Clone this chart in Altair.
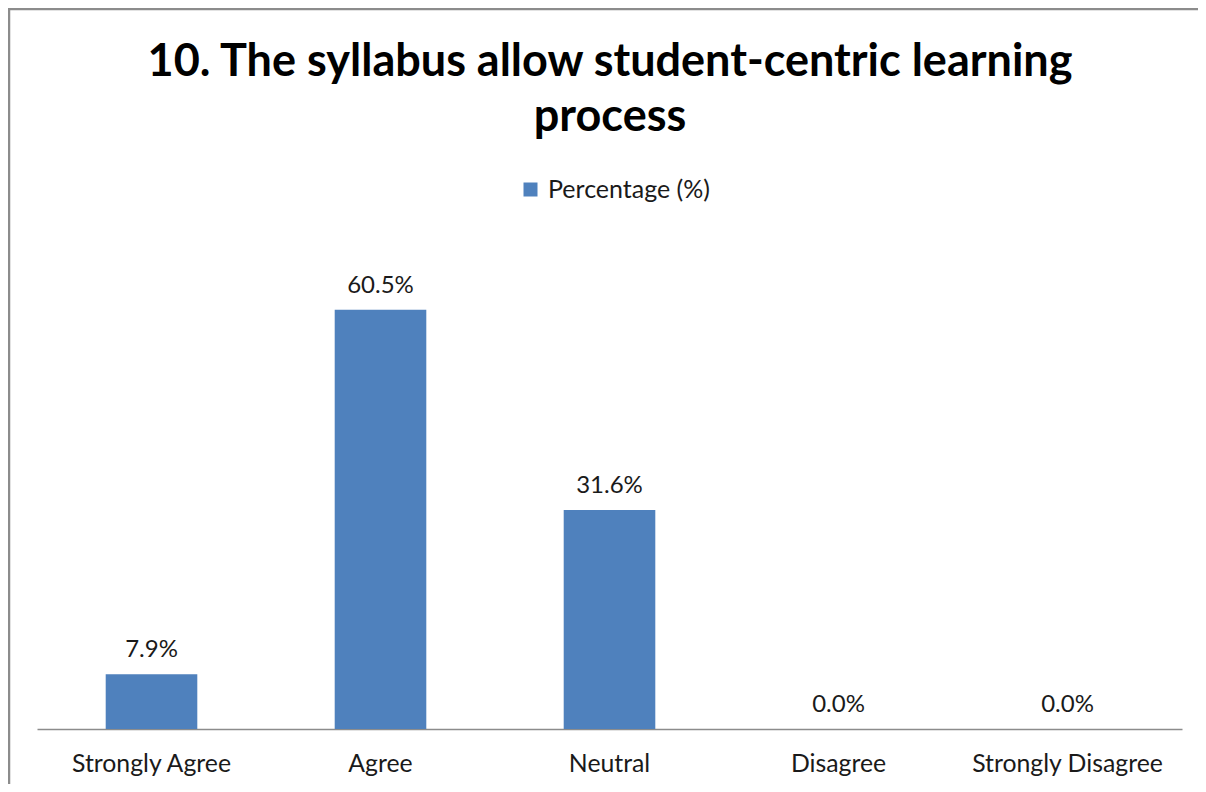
import altair as alt
import pandas as pd

categories = ["Strongly Agree", "Agree", "Neutral", "Disagree", "Strongly Disagree"]
values = [7.9, 60.5, 31.6, 0.0, 0.0]
series_name = "Percentage (%)"
title_lines = ["10. The syllabus allow student-centric learning", "process"]

df = pd.DataFrame({"category": categories, "value": values, "series": [series_name] * len(categories)})
one = pd.DataFrame({"k": [0]})

FONT = "Lato"
W, H = 1145, 485

x_enc = alt.X("category:N", sort=categories,
              scale=alt.Scale(paddingInner=0.6, paddingOuter=0.3),
              axis=alt.Axis(title=None, labelAngle=0, ticks=False, labelFontSize=24.8,
                            labelFont=FONT, labelColor="#1a1a1a", labelPadding=22, labelLimit=400,
                            domainColor="#8c8c8c", domainWidth=1.5, grid=False))
y_enc = alt.Y("value:Q", scale=alt.Scale(domain=[0, 70], nice=False), axis=None)

bars = alt.Chart(df).mark_bar(color="#4F81BD").encode(
    x=x_enc, y=y_enc,
    color=alt.Color("series:N", scale=alt.Scale(range=["#4F81BD"]),
                    legend=alt.Legend(title=None, orient="none", legendX=481, legendY=-67,
                                      symbolType="square", symbolSize=196, symbolStrokeWidth=0,
                                      labelFontSize=25, labelFont=FONT, labelColor="#1a1a1a",
                                      labelOffset=5, labelLimit=400))
)

labels = alt.Chart(df).transform_calculate(
    lbl="format(datum.value, '.1f') + '%'"
).mark_text(fontSize=24, font=FONT, color="#1a1a1a", baseline="alphabetic", dy=-17).encode(
    x=alt.X("category:N", sort=categories), y="value:Q", text="lbl:N"
)

title = alt.Chart(one).mark_text(
    text=title_lines, font=FONT, fontSize=45, fontWeight="bold", color="#000000",
    align="center", baseline="alphabetic", lineHeight=55
).encode(x=alt.value(573), y=alt.value(-168))

frame = alt.Chart(one).mark_rect(filled=False, stroke="#8c8c8c", strokeWidth=2.5, clip=False).encode(
    x=alt.value(-28), x2=alt.value(1300), y=alt.value(-235), y2=alt.value(700)
)

chart = alt.layer(frame, bars, labels, title).properties(
    width=W, height=H,
    autosize=alt.AutoSizeParams(type="none"),
    padding={"left": 29, "top": 236, "right": 16, "bottom": 55},
).configure(background="white").configure_view(stroke=None)

chart.save("out.html", embed_options={"renderer": "svg", "actions": False})
